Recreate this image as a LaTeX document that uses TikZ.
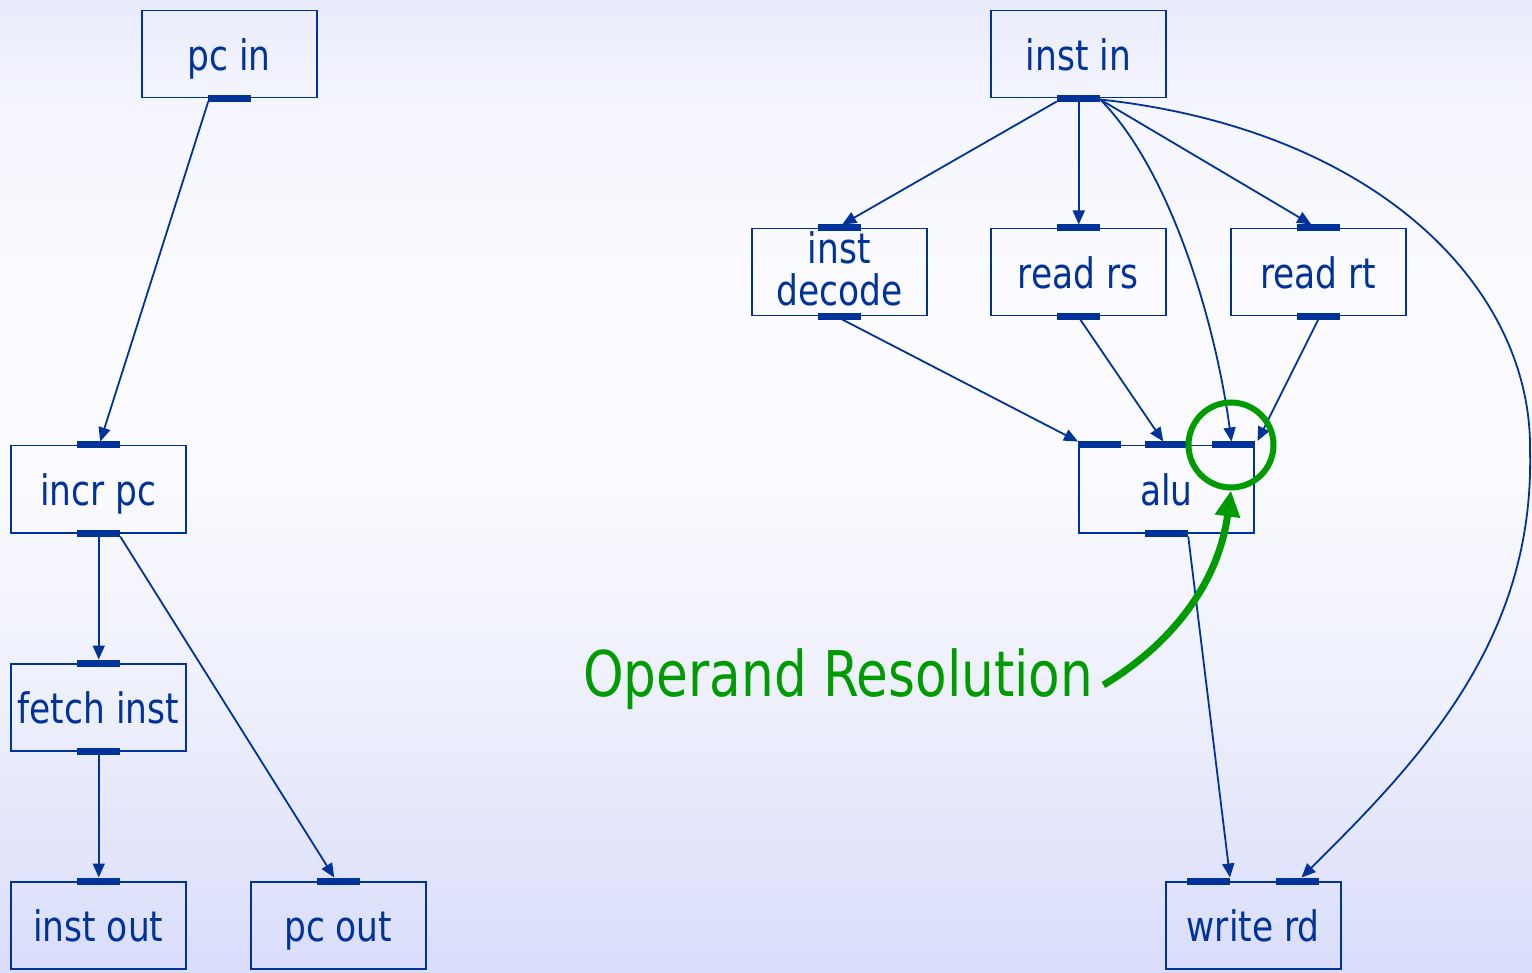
\documentclass[tikz,border=0pt]{standalone}
\usepackage{fontspec}
\setmainfont[FakeStretch=0.82]{DejaVu Sans}
\usetikzlibrary{arrows.meta,calc}
\definecolor{navy}{RGB}{0,51,153}
\definecolor{opgreen}{RGB}{0,155,0}
\definecolor{bgtop}{RGB}{233,235,250}
\definecolor{bgup}{RGB}{245,246,254}
\definecolor{bgmid}{RGB}{251,251,255}
\definecolor{bglow}{RGB}{236,238,252}
\definecolor{bgbot}{RGB}{217,221,250}
\pgfdeclareverticalshading{bgshade}{100bp}{color(0bp)=(bgbot); color(25bp)=(bgbot); color(37.8bp)=(bglow); color(51bp)=(bgmid); color(59bp)=(bgmid); color(69bp)=(bgup); color(75bp)=(bgtop); color(100bp)=(bgtop)}
\newcommand\pbar[1]{\fill[navy] ($(#1)+(-21.5,-3.5)$) rectangle ($(#1)+(21.5,3.5)$);}
\begin{document}
\begin{tikzpicture}[x=1pt,y=-1pt,
  box/.style={draw=navy, line width=1.5pt, minimum width=175pt, minimum height=87pt,
    inner sep=0pt, text=navy, font=\fontsize{42}{42}\selectfont, anchor=north west, align=center,
    text height=33pt, text depth=0pt},
  arr/.style={draw=navy, line width=1.8pt, -{Triangle[length=14pt,width=12pt]}},
  garr/.style={draw=opgreen, line width=7pt, -{Triangle[length=26pt,width=24pt]}}]
\shade[shading=bgshade] (0,0) rectangle (1532,973);
\useasboundingbox (0,0) rectangle (1532,973);

% boxes
\node[box] (pcin) at (141,10) {pc in};
\node[box] (instin) at (990,10) {inst in};
\node[box, text height=66pt] (decode) at (751,228) {inst\\decode};
\node[box] (readrs) at (990,228) {read rs};
\node[box] (readrt) at (1230,228) {read rt};
\node[box] (incrpc) at (10,445) {incr pc};
\node[box] (alu) at (1078,445) {alu};
\node[box] (fetch) at (10,663) {fetch inst};
\node[box] (instout) at (10,881) {inst out};
\node[box] (pcout) at (250,881) {pc out};
\node[box] (writerd) at (1165,881) {write rd};

% port bars
\coordinate (aluA) at ($(alu.north west)+(21.5,0)$);
\coordinate (aluB) at (alu.north);
\coordinate (aluC) at ($(alu.north east)+(-21.5,0)$);
\coordinate (wrA) at ($(writerd.north west)+(43.5,0)$);
\coordinate (wrB) at ($(writerd.north east)+(-44,0)$);
\pbar{pcin.south}
\pbar{instin.south}
\pbar{decode.north}\pbar{decode.south}
\pbar{readrs.north}\pbar{readrs.south}
\pbar{readrt.north}\pbar{readrt.south}
\pbar{incrpc.north}\pbar{incrpc.south}
\pbar{aluA}\pbar{aluB}\pbar{aluC}\pbar{alu.south}
\pbar{fetch.north}\pbar{fetch.south}
\pbar{instout.north}
\pbar{pcout.north}
\pbar{wrA}\pbar{wrB}

% connector end points
\coordinate (pcinO) at ($(pcin.south)+(-21,3)$);
\coordinate (incrI) at ($(incrpc.north)+(2,-3.5)$);
\coordinate (incrO1) at ($(incrpc.south)+(0.5,3)$);
\coordinate (incrO2) at ($(incrpc.south)+(22,3)$);
\coordinate (fetchI) at ($(fetch.north)+(0.5,-3.5)$);
\coordinate (fetchO) at ($(fetch.south)+(0.5,3)$);
\coordinate (instoutI) at ($(instout.north)+(0.5,-3.5)$);
\coordinate (pcoutI) at ($(pcout.north)+(-4,-3.5)$);
\coordinate (iiO1) at ($(instin.south)+(-21.5,3)$);
\coordinate (iiO2) at ($(instin.south)+(0.5,3)$);
\coordinate (iiO3) at ($(instin.south)+(22,1)$);
\coordinate (decI) at ($(decode.north)+(3,-3.5)$);
\coordinate (decO) at ($(decode.south)+(3,3)$);
\coordinate (rsI) at ($(readrs.north)+(0.5,-3.5)$);
\coordinate (rsO) at ($(readrs.south)+(2,3)$);
\coordinate (rtI) at ($(readrt.north)+(-7,-3.5)$);
\coordinate (rtO) at ($(readrt.south)+(0,3)$);
\coordinate (aluI1) at ($(alu.north west)+(0,-3.5)$);
\coordinate (aluI2) at ($(aluB)+(-3,-3.5)$);
\coordinate (aluI3) at ($(aluC)+(-1.5,-3.5)$);
\coordinate (aluI4) at ($(alu.north east)+(3,-4)$);
\coordinate (aluO) at ($(alu.south)+(22,3)$);
\coordinate (wrI1) at ($(wrA)+(21.5,-3.5)$);
\coordinate (wrI2) at ($(wrB)+(4,-3.5)$);

% connectors
\draw[arr] (pcinO) -- (incrI);
\draw[arr] (incrO1) -- (fetchI);
\draw[arr] (incrO2) -- (pcoutI);
\draw[arr] (fetchO) -- (instoutI);
\draw[arr] (iiO1) -- (decI);
\draw[arr] (iiO2) -- (rsI);
\draw[arr] (iiO3) -- (rtI);
\draw[arr] (iiO3) .. controls (1170,170) and (1215,320) .. (aluI3);
\draw[arr] (iiO3) .. controls (1380,130) and (1532,290) .. (1530,450)
   .. controls (1535,640) and (1420,760) .. (wrI2);
\draw[arr] (decO) -- (aluI1);
\draw[arr] (rsO) -- (aluI2);
\draw[arr] (rtO) -- (aluI4);
\draw[arr] (aluO) -- (wrI1);

% operand resolution
\node[draw=opgreen, line width=6pt, circle, minimum size=85pt, inner sep=0pt] (ring) at (1231,445) {};
\node[text=opgreen, font=\fontsize{63}{63}\selectfont, anchor=base west, inner sep=0pt] (oplabel) at (583,696) {Operand Resolution};
\draw[garr] (oplabel.base east) ++(10,-11) coordinate (gs) (gs) .. controls (1170,645) and (1218,585) .. (ring.south);
\end{tikzpicture}
\end{document}
